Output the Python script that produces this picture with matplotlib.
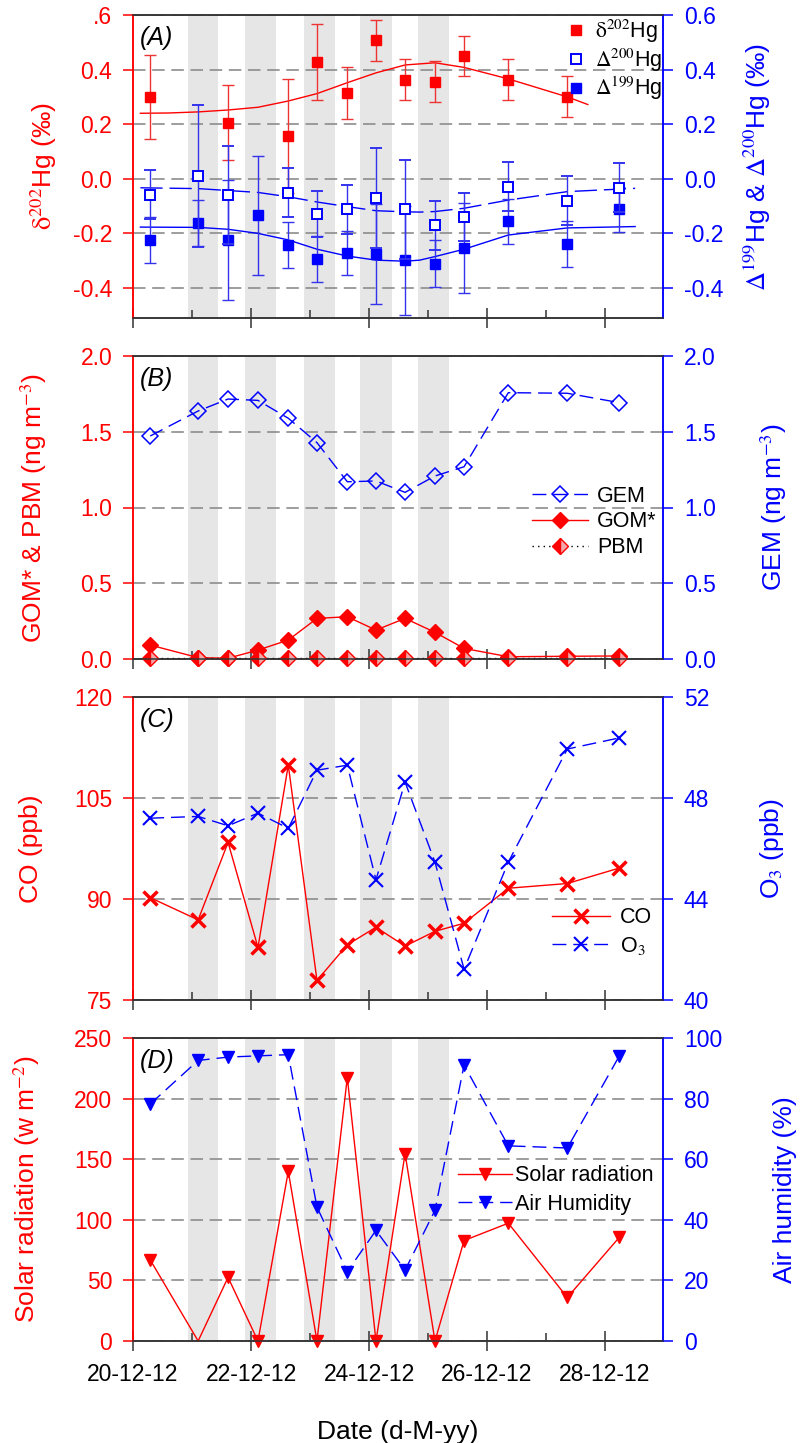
import matplotlib
matplotlib.use('Agg')
import matplotlib.pyplot as plt
import matplotlib.dates as mdates
import pandas as pd
import numpy as np
from matplotlib.lines import Line2D
from matplotlib.ticker import FixedLocator, FixedFormatter

plt.rcParams['font.family'] = ['Liberation Sans', 'DejaVu Sans']
plt.rcParams['mathtext.fontset'] = 'stix'

# ---------------- data ----------------
times = ['2012-12-20 07:00', '2012-12-21 02:30', '2012-12-21 14:40', '2012-12-22 02:50',
         '2012-12-22 15:10', '2012-12-23 02:50', '2012-12-23 15:10', '2012-12-24 02:50',
         '2012-12-24 14:40', '2012-12-25 02:50', '2012-12-25 14:40', '2012-12-26 08:40',
         '2012-12-27 08:40', '2012-12-28 05:50']

night_start = ['2012-12-20 22:20', '2012-12-21 21:40', '2012-12-22 21:40', '2012-12-23 20:25', '2012-12-24 19:55']
night_end = ['2012-12-21 10:30', '2012-12-22 10:05', '2012-12-23 10:05', '2012-12-24 09:20', '2012-12-25 08:40']

nan = np.nan
d202 = [0.30, nan, 0.205, nan, 0.157, 0.427, 0.314, 0.507, 0.362, 0.356, 0.45, 0.362, 0.30, nan]
d202_err = [0.155, nan, 0.138, nan, 0.21, 0.14, 0.095, 0.075, 0.075, 0.075, 0.073, 0.075, 0.075, nan]
D200 = [-0.059, 0.010, -0.059, nan, -0.051, -0.129, -0.111, -0.071, -0.112, -0.170, -0.139, -0.029, -0.081, -0.033]
D200_err = [0.09, 0.26, 0.18, nan, 0.09, 0.085, 0.09, 0.182, 0.181, 0.09, 0.088, 0.09, 0.09, 0.09]
D199 = [-0.224, -0.163, -0.224, -0.134, -0.242, -0.294, -0.273, -0.274, -0.299, -0.311, -0.253, -0.156, -0.239, -0.112]
D199_err = [0.083, 0.085, 0.22, 0.217, 0.083, 0.085, 0.08, 0.183, 0.2, 0.085, 0.164, 0.083, 0.083, 0.082]

fit202_t = ['2012-12-20 03:00', '2012-12-20 14:24', '2012-12-21 02:30', '2012-12-21 14:40', '2012-12-22 02:50',
            '2012-12-22 15:10', '2012-12-23 02:50', '2012-12-23 15:10', '2012-12-24 02:50', '2012-12-24 14:40',
            '2012-12-25 02:50', '2012-12-25 14:40', '2012-12-26 08:40', '2012-12-27 08:40', '2012-12-27 17:00']
fit202 = [0.240, 0.241, 0.245, 0.252, 0.262, 0.285, 0.312, 0.352, 0.388, 0.417, 0.425, 0.408, 0.366, 0.300, 0.272]

fitD_t = ['2012-12-20 03:00', '2012-12-21 02:30', '2012-12-21 14:40', '2012-12-22 02:50', '2012-12-22 15:10',
          '2012-12-23 02:50', '2012-12-23 15:10', '2012-12-24 02:50', '2012-12-24 14:40', '2012-12-24 20:40',
          '2012-12-25 02:50', '2012-12-25 14:40', '2012-12-26 08:40', '2012-12-27 08:40', '2012-12-28 12:15']
fit200 = [-0.033, -0.036, -0.043, -0.050, -0.066, -0.085, -0.102, -0.117, -0.121, -0.122, -0.120, -0.108, -0.078, -0.047, -0.035]
fit199 = [-0.177, -0.178, -0.185, -0.200, -0.224, -0.258, -0.283, -0.298, -0.302, -0.298, -0.285, -0.258, -0.206, -0.180, -0.175]

GEM = [1.472, 1.637, 1.716, 1.707, 1.589, 1.428, 1.170, 1.175, 1.100, 1.208, 1.269, 1.758, 1.754, 1.692]
GOM = [0.092, 0.009, 0.005, 0.059, 0.125, 0.268, 0.279, 0.191, 0.268, 0.176, 0.070, 0.015, 0.018, 0.020]
PBM = [0.005, 0.005, 0.005, 0.005, 0.005, 0.005, 0.005, 0.005, 0.005, 0.005, 0.005, 0.005, 0.005, 0.005]

CO = [90.2, 86.9, 98.4, 82.8, 109.9, 77.9, 83.2, 85.8, 83.0, 85.2, 86.4, 91.6, 92.3, 94.6]
O3 = [47.2, 47.27, 46.9, 47.4, 46.8, 49.1, 49.3, 44.76, 48.63, 45.46, 41.22, 45.46, 49.94, 50.38]

solar = [66.9, 0, 52.5, 0, 140, 0, 217.4, 0, 154.7, 0, 82.9, 97.2, 35.9, 85.6]
humidity = [78.2, 92.6, 93.7, 94.1, 94.5, 44.2, 22.9, 36.5, 23.4, 43.1, 91.1, 64.4, 63.7, 94.1]

date_ticks = ['20-12-12', '22-12-12', '24-12-12', '26-12-12', '28-12-12']

# ---------------- style ----------------
RED = '#ff0000'
BLUE = '#0000ff'
BAND = '#e6e6e6'
TICK_FS = 16.5
LAB_FS = 19
LEG_FS = 15.5

t = pd.to_datetime(times)
t202 = pd.to_datetime(fit202_t)
tD = pd.to_datetime(fitD_t)
x0 = pd.Timestamp('2012-12-20 00:00')
x1 = pd.Timestamp('2012-12-28 23:35')

fig = plt.figure(figsize=(8.03, 14.43), dpi=100)
W = 803.0
H = 1443.0
left = 133 / W
width = 530 / W
tops = [15, 356, 697, 1038]
height = 303 / H


def make_panel(i, ylim1, ticks1, labels1, ylim2, ticks2, labels2, ylab1, ylab2, lx1, lx2, tag, show_x=False):
    ax1 = fig.add_axes([left, 1 - (tops[i] + 303) / H, width, height])
    ax2 = ax1.twinx()
    ax1.set_xlim(x0, x1)
    for s, e in zip(night_start, night_end):
        ax1.axvspan(pd.Timestamp(s), pd.Timestamp(e), color=BAND, lw=0, zorder=0)
    ax1.set_ylim(*ylim1)
    ax2.set_ylim(*ylim2)
    ax1.yaxis.set_major_locator(FixedLocator(ticks1))
    ax1.yaxis.set_major_formatter(FixedFormatter(labels1))
    ax2.yaxis.set_major_locator(FixedLocator(ticks2))
    ax2.yaxis.set_major_formatter(FixedFormatter(labels2))
    ax1.set_axisbelow(True)
    ax1.grid(axis='y', color='#8c8c8c', lw=1.2, ls=(0, (7.5, 4)))
    ax1.grid(axis='x', visible=False)
    ax1.xaxis.set_major_locator(mdates.DayLocator(bymonthday=[20, 22, 24, 26, 28]))
    ax1.xaxis.set_minor_locator(mdates.DayLocator(bymonthday=[21, 23, 25, 27]))
    ax1.xaxis.set_major_formatter(mdates.DateFormatter('%d-%m-%y'))
    ax1.tick_params(axis='x', which='major', direction='inout', length=14, width=1.1,
                    color='#333333', pad=9, labelsize=TICK_FS, labelbottom=show_x)
    ax1.tick_params(axis='x', which='minor', direction='in', length=6, width=1.1, color='#333333')
    ax1.tick_params(axis='y', direction='out', length=7, width=1.1, colors=RED, labelsize=TICK_FS, pad=8)
    ax2.tick_params(axis='y', direction='out', length=7, width=1.1, colors=BLUE, labelsize=TICK_FS, pad=8)
    for a in (ax1, ax2):
        a.spines['left'].set_color(RED)
        a.spines['right'].set_color(BLUE)
        a.spines['top'].set_color('#333333')
        a.spines['bottom'].set_color('#333333')
        for sp in a.spines.values():
            sp.set_linewidth(1.1)
    ax1.set_ylabel(ylab1, color=RED, fontsize=LAB_FS)
    ax2.set_ylabel(ylab2, color=BLUE, fontsize=LAB_FS)
    ax1.yaxis.set_label_coords(lx1, 0.5)
    ax2.yaxis.set_label_coords(lx2, 0.5)
    ax2.text(0.012, 0.965, tag, transform=ax1.transAxes, fontsize=18, style='italic', va='top', ha='left')
    return ax1, ax2


# ---------------- Panel A ----------------
a1, a2 = make_panel(0, (-0.51, 0.6), [-0.4, -0.2, 0.0, 0.2, 0.4, 0.6],
                    ['-0.4', '-0.2', '0.0', '0.2', '0.4', '.6'],
                    (-0.51, 0.6), [-0.4, -0.2, 0.0, 0.2, 0.4, 0.6],
                    ['-0.4', '-0.2', '0.0', '0.2', '0.4', '0.6'],
                    r'$\mathrm{\delta}^{202}$Hg (‰)', r'$\Delta^{199}$Hg & $\Delta^{200}$Hg (‰)',
                    -0.14, 1.148, '(A)')
a1.plot(t202, fit202, color=RED, lw=1.0, zorder=3)
a1.errorbar(t, d202, yerr=d202_err, fmt='s', color=RED, ms=7.5, elinewidth=1, capsize=4.5,
            capthick=1, ecolor='#ee3333', zorder=4)
a2.plot(tD, fit200, color=BLUE, lw=1.0, ls=(0, (16, 5)), zorder=2)
a2.plot(tD, fit199, color=BLUE, lw=1.0, zorder=2)
a2.errorbar(t, D199, yerr=D199_err, fmt='s', color=BLUE, ms=7.5, elinewidth=1, capsize=4.5,
            capthick=1, ecolor='#3333ee', zorder=3)
a2.errorbar(t, D200, yerr=D200_err, fmt='s', color=BLUE, mfc='white', mec=BLUE, mew=1.4, ms=7.5,
            elinewidth=1, capsize=4.5, capthick=1, ecolor='#3333ee', zorder=4)
hA = [Line2D([], [], ls='none', marker='s', color=RED, ms=7.5),
      Line2D([], [], ls='none', marker='s', mfc='white', mec=BLUE, mew=1.4, ms=7.5),
      Line2D([], [], ls='none', marker='s', color=BLUE, ms=7.5)]
a2.legend(hA, [r'$\mathrm{\delta}^{202}$Hg', r'$\Delta^{200}$Hg', r'$\Delta^{199}$Hg'],
          loc='upper left', bbox_to_anchor=(0.815, 0.99), frameon=False, fontsize=LEG_FS,
          handlelength=1.0, handletextpad=0.4, labelspacing=0.05, borderpad=0, borderaxespad=0)

# ---------------- Panel B ----------------
b1, b2 = make_panel(1, (0, 2.0), [0, 0.5, 1.0, 1.5, 2.0], ['0.0', '0.5', '1.0', '1.5', '2.0'],
                    (0, 2.0), [0, 0.5, 1.0, 1.5, 2.0], ['0.0', '0.5', '1.0', '1.5', '2.0'],
                    'GOM* & PBM (ng m$^{-3}$)', 'GEM (ng m$^{-3}$)', -0.158, 1.18, '(B)')
lGOM, = b1.plot(t, GOM, color=RED, lw=1.0, marker='D', ms=8.5, mfc=RED, mec=RED, zorder=4, clip_on=False)
lPBM, = b1.plot(t, PBM, color='black', lw=1.0, ls=(0, (1, 3)), marker='D', ms=8.5, fillstyle='left',
                mfc=RED, mfcalt='#f2a8a8', mec=RED, mew=1.0, zorder=5, clip_on=False)
lGEM, = b2.plot(t, GEM, color=BLUE, lw=1.0, ls=(0, (10, 5)), marker='D', ms=8.5, mfc='none',
                mec=BLUE, mew=1.1, zorder=4)
b2.legend([lGEM, lGOM, lPBM], ['GEM', 'GOM*', 'PBM'], loc='upper left', bbox_to_anchor=(0.752, 0.572),
          frameon=False, fontsize=LEG_FS, handlelength=2.6, handletextpad=0.45, labelspacing=0.22,
          borderpad=0, borderaxespad=0)

# ---------------- Panel C ----------------
c1, c2 = make_panel(2, (75, 120), [75, 90, 105, 120], ['75', '90', '105', '120'],
                    (40, 52), [40, 44, 48, 52], ['40', '44', '48', '52'],
                    'CO (ppb)', 'O$_3$ (ppb)', -0.17, 1.18, '(C)')
lCO, = c1.plot(t, CO, color=RED, lw=1.0, marker='x', ms=10, mew=2.5, zorder=4)
lO3, = c2.plot(t, O3, color=BLUE, lw=1.0, ls=(0, (10, 5)), marker='x', ms=10, mew=1.5, zorder=4)
c2.legend([lCO, lO3], ['CO', 'O$_3$'], loc='upper left', bbox_to_anchor=(0.79, 0.306),
          frameon=False, fontsize=LEG_FS, handlelength=2.7, handletextpad=0.45, labelspacing=0.3,
          borderpad=0, borderaxespad=0)

# ---------------- Panel D ----------------
d1, d2 = make_panel(3, (0, 250), [0, 50, 100, 150, 200, 250], ['0', '50', '100', '150', '200', '250'],
                    (0, 100), [0, 20, 40, 60, 80, 100], ['0', '20', '40', '60', '80', '100'],
                    'Solar radiation (w m$^{-2}$)', 'Air humidity (%)', -0.172, 1.208, '(D)', show_x=True)
solar_marks = [i for i, v in enumerate(solar) if i != 1]
lSol, = d1.plot(t, solar, color=RED, lw=1.0, marker='v', ms=9, markevery=solar_marks, zorder=4, clip_on=False)
lHum, = d2.plot(t, humidity, color=BLUE, lw=1.0, ls=(0, (10, 5)), marker='v', ms=9, zorder=4)
d2.legend([lSol, lHum], ['Solar radiation', 'Air Humidity'], loc='upper left', bbox_to_anchor=(0.613, 0.58),
          frameon=False, fontsize=LEG_FS, handlelength=2.5, handletextpad=0.15, labelspacing=0.35,
          borderpad=0, borderaxespad=0)
d1.set_xlabel('Date (d-M-yy)', fontsize=LAB_FS, labelpad=24)
d1.xaxis.set_major_formatter(FixedFormatter(date_ticks))
d1.xaxis.set_major_locator(FixedLocator(mdates.date2num(pd.to_datetime(
    ['2012-12-20', '2012-12-22', '2012-12-24', '2012-12-26', '2012-12-28']))))

fig.savefig('out.png', dpi=100)
